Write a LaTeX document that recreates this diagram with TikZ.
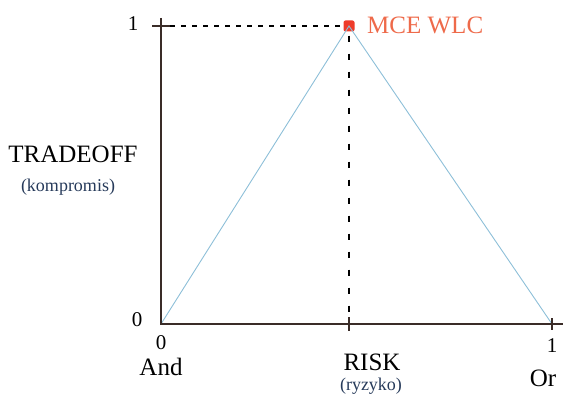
\documentclass[tikz,border=0pt]{standalone}
\usepackage{fontspec}
\setmainfont{Liberation Serif}
\usepackage{tikz}
\usetikzlibrary{arrows.meta,positioning,calc}
\definecolor{axisink}{HTML}{3A2C28}
\definecolor{slope}{HTML}{8DBFD8}
\definecolor{peakred}{HTML}{EE3B2A}
\definecolor{peaktext}{HTML}{EE6A4A}
\definecolor{note}{HTML}{263A5A}

\begin{document}
\begin{tikzpicture}[x=1pt,y=-1pt,
    axis/.style={axisink,line width=1.6pt},
    guide/.style={black,line width=1.2pt,dash pattern=on 5pt off 6pt},
    vguide/.style={black,line width=1.3pt,dash pattern=on 6pt off 12pt},
    lbl/.style={font=\fontsize{25}{28}\selectfont,inner sep=0pt},
    num/.style={font=\fontsize{21}{24}\selectfont,inner sep=0pt},
    sub/.style={font=\fontsize{18}{21}\selectfont,text=note,inner sep=0pt}]
  \useasboundingbox (0,0) rectangle (563,401);
  \coordinate (o) at (161,324);
  \coordinate (ytop) at (161,18);
  \coordinate (xend) at (563,324);
  \coordinate (ytick) at (161,26);
  \coordinate (mid) at (349,324);
  \coordinate (right) at (552,324);
  \node[rectangle,rounded corners=2pt,fill=peakred,inner sep=0pt,minimum size=11pt] (peak) at (349,26) {};
  % triangle
  \draw[slope,line width=0.9pt] (o) -- (peak.center) -- (right);
  % guides to the peak
  \draw[guide] ([xshift=9pt]ytick) -- (peak);
  \draw[vguide] ([yshift=-4pt]peak.south) -- (mid);
  % axes and ticks
  \draw[axis] (ytop) -- (o) -- (xend);
  \draw[axis] ([xshift=-9pt]ytick) -- ([xshift=9pt]ytick);
  \draw[axis] ([yshift=7pt]mid) -- ([yshift=-7pt]mid);
  \draw[axis] ([yshift=6pt]right) -- ([yshift=-6pt]right);
  % labels
  \node[lbl,text=peaktext,anchor=west] (mce) at (367,25) {MCE WLC};
  \node[num] (yone) at (133,24) {1};
  \node[num] (yzero) at (137,320) {0};
  \node[num] (xzero) at (161,343) {0};
  \node[lbl] (and) at (161,367) {And};
  \node[lbl] (risk) at (372,362) {RISK};
  \node[sub] (ryzyko) at (371,386) {(ryzyko)};
  \node[num] (xone) at (552,346) {1};
  \node[lbl] (or) at (543,378) {Or};
  \node[lbl] (trade) at (73,154) {TRADEOFF};
  \node[sub] (kompr) at (68,187) {(kompromis)};
\end{tikzpicture}
\end{document}
